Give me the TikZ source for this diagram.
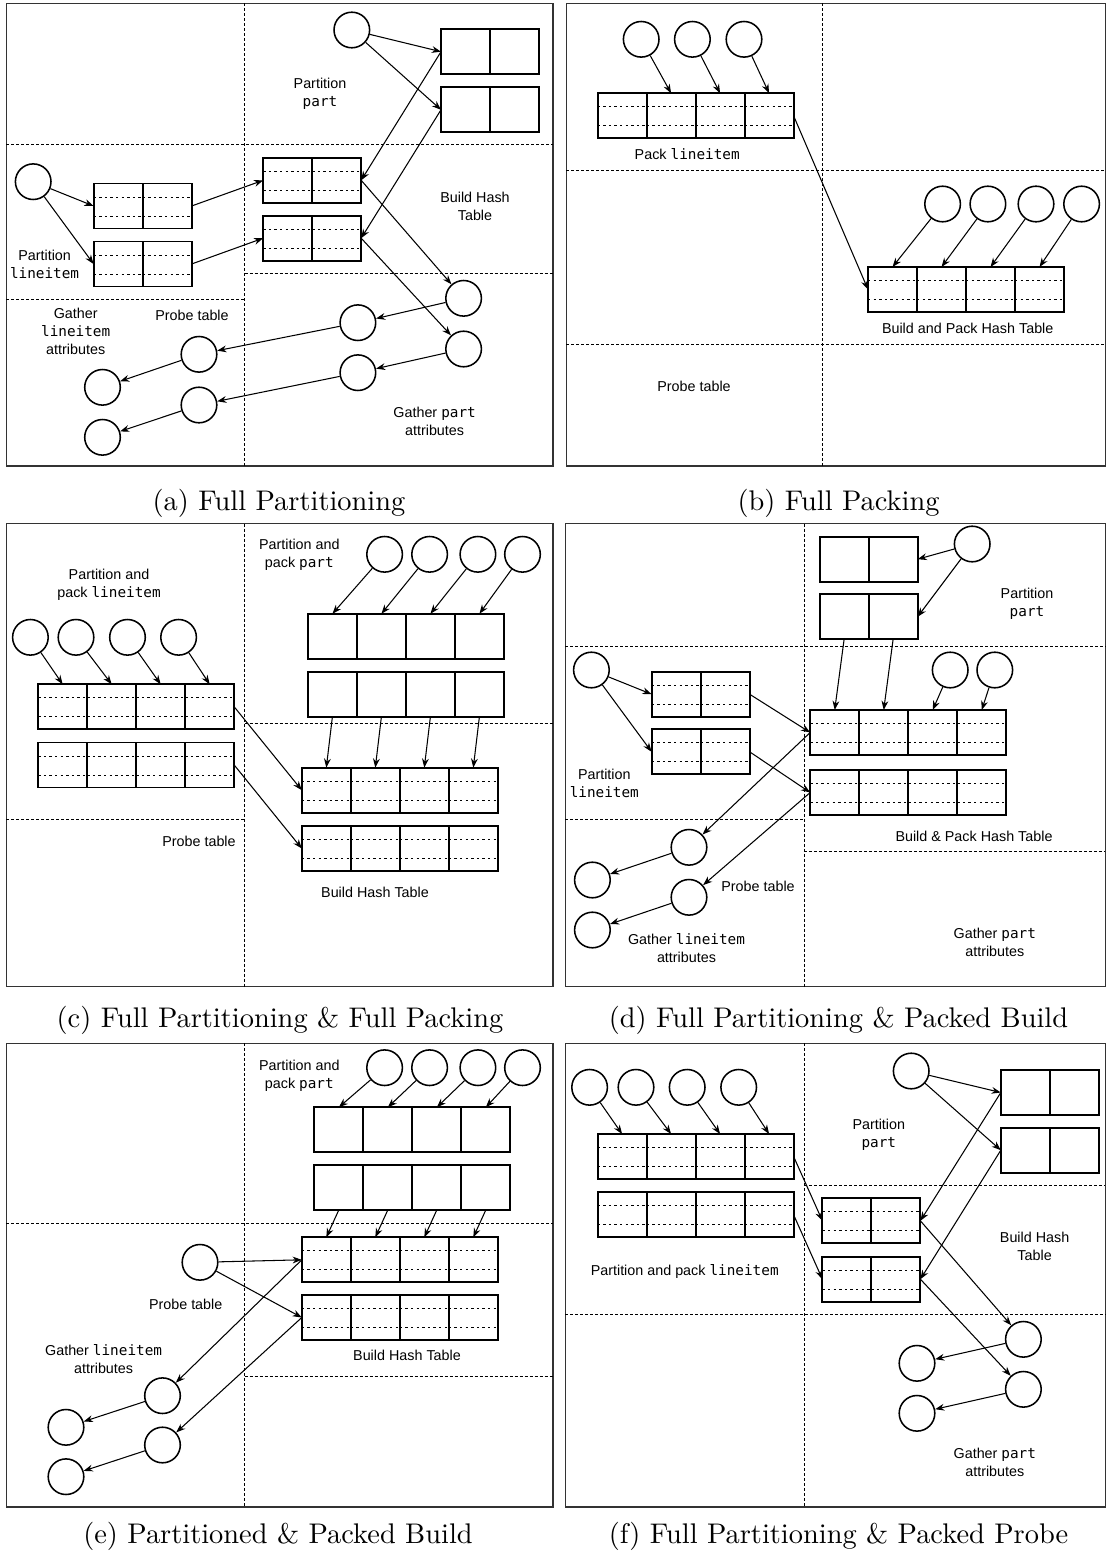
\documentclass[tikz,border=0pt]{standalone}
\usepackage{fontspec}
\setsansfont{Liberation Sans}
\setmonofont{DejaVu Sans Mono}
\newfontfamily\capfont{lmroman10-regular.otf}
\usetikzlibrary{arrows.meta}

\newcommand{\lblsize}{\sffamily\fontsize{10.2}{12.8}\selectfont}
\newcommand{\capsize}{\capfont\fontsize{20.2}{24}\selectfont}
% a row of #3 cells, left edge #4, centre height #5
\newcommand{\cellrow}[5]{%
  \foreach \k in {1,...,#3}
    \node[#2] (#1-\k) at ({#4+24.5+(\k-1)*49},{#5}) {};%
}

\tikzset{
  dotline/.style={dash pattern=on 0.6mm off 0.8mm, line width=0.6pt},
  cell/.style={draw, line width=1.4pt, minimum width=12.25mm,
               minimum height=11.25mm, inner sep=0pt, outer sep=0pt},
  pcell/.style={cell, path picture={
      \draw[dotline] ([yshift=-3.4mm]path picture bounding box.north west)
                  -- ([yshift=-3.4mm]path picture bounding box.north east);
      \draw[dotline] ([yshift=3.1mm]path picture bounding box.south west)
                  -- ([yshift=3.1mm]path picture bounding box.south east);}},
  circ/.style={draw, circle, line width=1.1pt, minimum size=8.9mm, inner sep=0pt},
  arr/.style={-{Stealth[length=2.3mm, width=1.7mm]}, line width=0.75pt},
  divider/.style={dash pattern=on 0.75mm off 0.5mm, line width=0.45pt},
  panel/.style={line width=0.8pt, draw=black!80},
  lbl/.style={font=\lblsize, align=center},
  captxt/.style={font=\capsize}
}

\begin{document}
\begin{tikzpicture}[x=0.25mm, y=-0.25mm]
  \useasboundingbox (0,0) rectangle (1106,1557);

  % (a) Full Partitioning
  \draw[panel] (6.4,3.3) rectangle (553,466);
  \draw[divider] (244.6,3.3) -- (244.6,466);
  \draw[divider] (6.4,144.3) -- (553,144.3);
  \draw[divider] (6.4,299.3) -- (244.6,299.3);
  \draw[divider] (244.6,273.3) -- (553,273.3);

  \node[circ] (aP) at (351.8,30) {};
  \cellrow{aT1}{cell}{2}{441}{51.7}
  \cellrow{aT2}{cell}{2}{441}{109.8}
  \node[lbl] (aPartPart) at (320,94) {Partition\\\texttt{part}};
  \node[circ] (aL) at (33.2,181.7) {};
  \cellrow{aS1}{pcell}{2}{93.6}{206}
  \cellrow{aS2}{pcell}{2}{93.6}{264}
  \cellrow{aH1}{pcell}{2}{263.2}{180.3}
  \cellrow{aH2}{pcell}{2}{263.2}{238.2}
  \node[lbl] (aBuild) at (475,206) {Build Hash\\Table};
  \node[lbl] (aPartLine) at (44.6,264) {Partition\\\texttt{lineitem}};
  \node[lbl] (aGathLine) at (75.7,331) {Gather\\\texttt{lineitem}\\attributes};
  \node[lbl] (aProbe) at (192,315) {Probe table};
  \node[lbl] (aGathPart) at (434.6,421.7) {Gather \texttt{part}\\attributes};
  \node[circ] (aQ1) at (463.6,298.3) {};
  \node[circ] (aQ2) at (463.6,349) {};
  \node[circ] (aR1) at (357.9,322.7) {};
  \node[circ] (aR2) at (357.9,372.7) {};
  \node[circ] (aG1) at (199,354.3) {};
  \node[circ] (aG2) at (199,405) {};
  \node[circ] (aK1) at (102.5,387.3) {};
  \node[circ] (aK2) at (102.5,437.3) {};

  \draw[arr] (aP) -- (aT1-1.west);
  \draw[arr] (aP) -- (aT2-1.west);
  \draw[arr] (aT1-1.west) -- (aH1-2.east);
  \draw[arr] (aT2-1.west) -- (aH2-2.east);
  \draw[arr] (aL) -- (aS1-1.west);
  \draw[arr] (aL) -- (aS2-1.west);
  \draw[arr] (aS1-2.east) -- (aH1-1.west);
  \draw[arr] (aS2-2.east) -- (aH2-1.west);
  \draw[arr] (aH1-2.east) -- (aQ1);
  \draw[arr] (aH2-2.east) -- (aQ2);
  \draw[arr] (aQ1) -- (aR1);
  \draw[arr] (aR1) -- (aG1);
  \draw[arr] (aG1) -- (aK1);
  \draw[arr] (aQ2) -- (aR2);
  \draw[arr] (aR2) -- (aG2);
  \draw[arr] (aG2) -- (aK2);

  % (b) Full Packing
  \draw[panel] (566.3,3.3) rectangle (1105.3,466);
  \draw[divider] (822,3.3) -- (822,466);
  \draw[divider] (566.3,170.7) -- (1105.3,170.7);
  \draw[divider] (566.3,344) -- (1105.3,344);

  \node[circ] (bC1) at (641.2,39.3) {};
  \node[circ] (bC2) at (692.4,39.3) {};
  \node[circ] (bC3) at (744,39.3) {};
  \cellrow{bS}{pcell}{4}{597.6}{115.8}
  \node[lbl] (bPack) at (687.2,154) {Pack \texttt{lineitem}};
  \node[circ] (bD1) at (942.6,204) {};
  \node[circ] (bD2) at (987.9,204) {};
  \node[circ] (bD3) at (1036,204) {};
  \node[circ] (bD4) at (1081.6,204) {};
  \cellrow{bH}{pcell}{4}{868}{289.5}
  \node[lbl] (bBuild) at (967.7,328.3) {Build and Pack Hash Table};
  \node[lbl] (bProbe) at (694,386) {Probe table};

  \draw[arr] (bC1) -- (bS-2.north);
  \draw[arr] (bC2) -- (bS-3.north);
  \draw[arr] (bC3) -- (bS-4.north);
  \draw[arr] (bD1) -- (bH-1.north);
  \draw[arr] (bD2) -- (bH-2.north);
  \draw[arr] (bD3) -- (bH-3.north);
  \draw[arr] (bD4) -- (bH-4.north);
  \draw[arr] (bS-4.east) -- (bH-1.west);

  % (c) Full Partitioning & Full Packing
  \draw[panel] (6.4,523.5) rectangle (553,986.5);
  \draw[divider] (244.6,523.5) -- (244.6,986.5);
  \draw[divider] (6.4,819.3) -- (244.6,819.3);
  \draw[divider] (244.6,723.3) -- (553,723.3);

  \node[lbl] (cPackLine) at (109,585) {Partition and\\pack \texttt{lineitem}};
  \node[circ] (cL1) at (30.4,637.3) {};
  \node[circ] (cL2) at (76,637.3) {};
  \node[circ] (cL3) at (127.5,637.3) {};
  \node[circ] (cL4) at (178.6,637.3) {};
  \cellrow{cS1}{pcell}{4}{38.2}{706.8}
  \cellrow{cS2}{pcell}{4}{38.2}{765}
  \node[lbl] (cPackPart) at (299.3,555) {Partition and\\pack \texttt{part}};
  \node[circ] (cP1) at (384.6,554.3) {};
  \node[circ] (cP2) at (429.6,554.3) {};
  \node[circ] (cP3) at (477.9,554.3) {};
  \node[circ] (cP4) at (522.5,554.3) {};
  \cellrow{cT1}{cell}{4}{307.9}{636.3}
  \cellrow{cT2}{cell}{4}{307.9}{694.2}
  \cellrow{cH1}{pcell}{4}{301.8}{790.2}
  \cellrow{cH2}{pcell}{4}{301.8}{848.5}
  \node[lbl] (cProbe) at (199,841.7) {Probe table};
  \node[lbl] (cBuild) at (375,892.7) {Build Hash Table};

  \foreach \i in {1,...,4} {
    \draw[arr] (cL\i) -- (cS1-\i.north);
    \draw[arr] (cP\i) -- (cT1-\i.north);
    \draw[arr] (cT2-\i.south) -- (cH1-\i.north);
  }
  \draw[arr] (cS1-4.east) -- (cH1-1.west);
  \draw[arr] (cS2-4.east) -- (cH2-1.west);

  % (d) Full Partitioning & Packed Build
  \draw[panel] (565.2,523.5) rectangle (1105.3,986.5);
  \draw[divider] (803.9,523.5) -- (803.9,986.5);
  \draw[divider] (565.2,646.7) -- (1105.3,646.7);
  \draw[divider] (565.2,819.3) -- (803.9,819.3);
  \draw[divider] (803.9,851) -- (1105.3,851);

  \cellrow{dT1}{cell}{2}{819.6}{559.2}
  \cellrow{dT2}{cell}{2}{819.6}{616.8}
  \node[circ] (dP) at (972.2,544) {};
  \node[lbl] (dPartPart) at (1027,603.7) {Partition\\\texttt{part}};
  \node[circ] (dL) at (591.4,670) {};
  \cellrow{dS1}{pcell}{2}{651.6}{694.2}
  \cellrow{dS2}{pcell}{2}{651.6}{751.8}
  \node[lbl] (dPartLine) at (604.3,783.3) {Partition\\\texttt{lineitem}};
  \cellrow{dH1}{pcell}{4}{810.2}{732.5}
  \cellrow{dH2}{pcell}{4}{810.2}{792.5}
  \node[circ] (dB1) at (950.2,670) {};
  \node[circ] (dB2) at (994.8,670) {};
  \node[circ] (dQ1) at (689,847.3) {};
  \node[circ] (dQ2) at (689,897.3) {};
  \node[circ] (dG1) at (592.4,880) {};
  \node[circ] (dG2) at (592.4,930) {};
  \node[lbl] (dProbe) at (758,886.7) {Probe table};
  \node[lbl] (dBuild) at (974,836) {Build \& Pack Hash Table};
  \node[lbl] (dGathLine) at (686.5,948.3) {Gather \texttt{lineitem}\\attributes};
  \node[lbl] (dGathPart) at (994.8,942) {Gather \texttt{part}\\attributes};

  \draw[arr] (dP) -- (dT1-2.east);
  \draw[arr] (dP) -- (dT2-2.east);
  \draw[arr] (dL) -- (dS1-1.west);
  \draw[arr] (dL) -- (dS2-1.west);
  \draw[arr] (dT2-1.south) -- (dH1-1.north);
  \draw[arr] (dT2-2.south) -- (dH1-2.north);
  \draw[arr] (dB1) -- (dH1-3.north);
  \draw[arr] (dB2) -- (dH1-4.north);
  \draw[arr] (dS1-2.east) -- (dH1-1.west);
  \draw[arr] (dS2-2.east) -- (dH2-1.west);
  \draw[arr] (dH1-1.west) -- (dQ1);
  \draw[arr] (dH2-1.west) -- (dQ2);
  \draw[arr] (dQ1) -- (dG1);
  \draw[arr] (dQ2) -- (dG2);

  % (e) Partitioned & Packed Build
  \draw[panel] (6.4,1043.3) rectangle (553,1507);
  \draw[divider] (244.6,1043.3) -- (244.6,1507);
  \draw[divider] (6.4,1223.3) -- (553,1223.3);
  \draw[divider] (244.6,1376.7) -- (553,1376.7);

  \node[lbl] (ePackPart) at (299.3,1075.3) {Partition and\\pack \texttt{part}};
  \node[circ] (eP1) at (384.6,1067.7) {};
  \node[circ] (eP2) at (429.6,1067.7) {};
  \node[circ] (eP3) at (477.9,1067.7) {};
  \node[circ] (eP4) at (522.5,1067.7) {};
  \cellrow{eT1}{cell}{4}{314.3}{1129.8}
  \cellrow{eT2}{cell}{4}{314.3}{1187.5}
  \cellrow{eH1}{pcell}{4}{301.8}{1259.8}
  \cellrow{eH2}{pcell}{4}{301.8}{1317.5}
  \node[circ] (eQ) at (200,1262.3) {};
  \node[circ] (eG1) at (162.5,1395.7) {};
  \node[circ] (eG2) at (162.5,1445) {};
  \node[circ] (eK1) at (66,1427.3) {};
  \node[circ] (eK2) at (66,1476.7) {};
  \node[lbl] (eProbe) at (185.7,1304) {Probe table};
  \node[lbl] (eBuild) at (407,1355.7) {Build Hash Table};
  \node[lbl] (eGathLine) at (103.6,1359.5) {Gather \texttt{lineitem}\\attributes};

  \foreach \i in {1,...,4} {
    \draw[arr] (eP\i) -- (eT1-\i.north);
    \draw[arr] (eT2-\i.south) -- (eH1-\i.north);
  }
  \draw[arr] (eQ) -- (eH1-1.west);
  \draw[arr] (eQ) -- (eH2-1.west);
  \draw[arr] (eH1-1.west) -- (eG1);
  \draw[arr] (eH2-1.west) -- (eG2);
  \draw[arr] (eG1) -- (eK1);
  \draw[arr] (eG2) -- (eK2);

  % (f) Full Partitioning & Packed Probe
  \draw[panel] (565.2,1043.3) rectangle (1105.3,1507);
  \draw[divider] (803.9,1043.3) -- (803.9,1507);
  \draw[divider] (803.9,1185) -- (1105.3,1185);
  \draw[divider] (565.2,1314) -- (1105.3,1314);

  \node[circ] (fL1) at (589.6,1087.3) {};
  \node[circ] (fL2) at (636,1087.3) {};
  \node[circ] (fL3) at (687.2,1087.3) {};
  \node[circ] (fL4) at (738.7,1087.3) {};
  \cellrow{fS1}{pcell}{4}{597.6}{1156.5}
  \cellrow{fS2}{pcell}{4}{597.6}{1214.8}
  \node[lbl] (fPackLine) at (684.7,1271.7) {Partition and pack \texttt{lineitem}};
  \node[circ] (fP) at (911.2,1071) {};
  \cellrow{fT1}{cell}{2}{1000.8}{1092.5}
  \cellrow{fT2}{cell}{2}{1000.8}{1150.2}
  \node[lbl] (fPartPart) at (878.8,1135) {Partition\\\texttt{part}};
  \cellrow{fH1}{pcell}{2}{822.4}{1220.8}
  \cellrow{fH2}{pcell}{2}{822.4}{1279.2}
  \node[lbl] (fBuild) at (1034.6,1246.7) {Build Hash\\Table};
  \node[circ] (fQ1) at (1023.4,1339.3) {};
  \node[circ] (fQ2) at (1023.4,1389.3) {};
  \node[circ] (fR1) at (917,1363.3) {};
  \node[circ] (fR2) at (917,1413.3) {};
  \node[lbl] (fGathPart) at (994.8,1462) {Gather \texttt{part}\\attributes};

  \foreach \i in {1,...,4}
    \draw[arr] (fL\i) -- (fS1-\i.north);
  \draw[arr] (fP) -- (fT1-1.west);
  \draw[arr] (fP) -- (fT2-1.west);
  \draw[arr] (fS1-4.east) -- (fH1-1.west);
  \draw[arr] (fS2-4.east) -- (fH2-1.west);
  \draw[arr] (fT1-1.west) -- (fH1-2.east);
  \draw[arr] (fT2-1.west) -- (fH2-2.east);
  \draw[arr] (fH1-2.east) -- (fQ1);
  \draw[arr] (fH2-2.east) -- (fQ2);
  \draw[arr] (fQ1) -- (fR1);
  \draw[arr] (fQ2) -- (fR2);

  % captions
  \node[captxt] (capA) at (279,503) {(a) Full Partitioning};
  \node[captxt] (capB) at (838.5,503) {(b) Full Packing};
  \node[captxt] (capC) at (280,1020) {(c) Full Partitioning \& Full Packing};
  \node[captxt] (capD) at (838.5,1020) {(d) Full Partitioning \& Packed Build};
  \node[captxt] (capE) at (278,1536) {(e) Partitioned \& Packed Build};
  \node[captxt] (capF) at (838.5,1536) {(f) Full Partitioning \& Packed Probe};
\end{tikzpicture}
\end{document}
